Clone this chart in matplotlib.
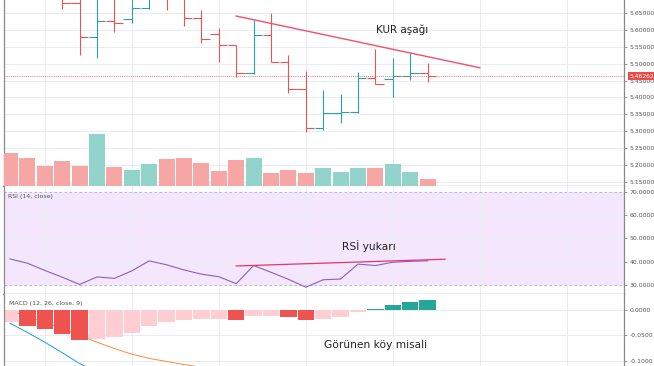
import matplotlib
matplotlib.use("Agg")
import matplotlib.pyplot as plt
from matplotlib.ticker import FixedLocator, FuncFormatter

# ---------------- data ----------------
bars = list(range(25))
opens  = [5.76, 5.74, 5.73, 5.71, 5.679, 5.578, 5.627, 5.631, 5.664, 5.71,
          5.695, 5.634, 5.588, 5.555, 5.472, 5.585, 5.504, 5.424, 5.309, 5.355,
          5.358, 5.457, 5.454, 5.463, 5.473]
highs  = [5.79, 5.77, 5.76, 5.73, 5.71, 5.70, 5.70, 5.70, 5.72, 5.73,
          5.71, 5.659, 5.605, 5.555, 5.629, 5.649, 5.526, 5.478, 5.422, 5.409,
          5.476, 5.543, 5.516, 5.531, 5.501]
lows   = [5.72, 5.71, 5.70, 5.662, 5.526, 5.516, 5.595, 5.619, 5.663, 5.659,
          5.612, 5.562, 5.504, 5.462, 5.469, 5.504, 5.412, 5.299, 5.304, 5.324,
          5.355, 5.439, 5.402, 5.452, 5.447]
closes = [5.73, 5.72, 5.71, 5.679, 5.578, 5.627, 5.619, 5.664, 5.70, 5.695,
          5.634, 5.572, 5.555, 5.472, 5.585, 5.504, 5.424, 5.309, 5.355, 5.358,
          5.457, 5.440, 5.463, 5.473, 5.46262]
volume = [32700, 27700, 20000, 25000, 20300, 52000, 19300, 15700, 22300, 26700,
          28300, 22700, 14700, 25700, 27700, 13300, 16000, 13300, 18300, 14300,
          18300, 18300, 21700, 14300, 6700]
last_price = 5.46262

rsi = [41.2, 39.4, 36.3, 33.4, 30.3, 33.5, 32.9, 36.1, 40.4, 38.7,
       36.5, 34.7, 33.6, 30.6, 38.4, 35.5, 32.5, 29.1, 32.3, 32.6,
       39.0, 38.4, 39.8, 40.2, 40.4]

macd_hist = [-0.0247, -0.031, -0.038, -0.048, -0.0587, -0.0573, -0.052, -0.0446, -0.031, -0.0247,
             -0.020, -0.0177, -0.0175, -0.020, -0.0125, -0.0125, -0.0138, -0.020, -0.019, -0.015,
             -0.0054, 0.0006, 0.0087, 0.015, 0.018]
macd_line = [-0.0265, -0.044, -0.063, -0.083, -0.104, -0.120, -0.133, -0.142, -0.146, -0.149,
             -0.150, -0.151, -0.152, -0.155, -0.153, -0.155, -0.160, -0.166, -0.165, -0.162,
             -0.152, -0.146, -0.138, -0.131, -0.125]
signal_line = [-0.002, -0.013, -0.025, -0.036, -0.049, -0.063, -0.075, -0.086, -0.094, -0.100,
               -0.106, -0.111, -0.116, -0.121, -0.125, -0.129, -0.132, -0.136, -0.140, -0.143,
               -0.145, -0.146, -0.146, -0.145, -0.142]

price_trend_x = [13, 27]
price_trend_y = [5.641, 5.488]
rsi_trend_x = [13, 25]
rsi_trend_y = [38.2, 41.1]

price_ticks = [5.15, 5.20, 5.25, 5.30, 5.35, 5.40, 5.45, 5.50, 5.55, 5.60, 5.65]
rsi_ticks = [30, 40, 50, 60, 70]
macd_ticks = [-0.10, -0.05, 0.0]
vgrid = [2, 7, 12, 17, 22, 27, 32]

# ---------------- style ----------------
UP, DOWN = '#26a69a', '#ef5350'
VOL_UP, VOL_DOWN = '#92d3cc', '#f5a6a5'
GRID = '#e9edf3'
AXC = '#8a8a8a'
LBL = '#555555'
plt.rcParams['font.family'] = ['DejaVu Sans']

fig = plt.figure(figsize=(6.54, 3.66), dpi=100)
L = 3.5 / 654
Wd = (624 - 3.5) / 654
rect_p = [L, 180 / 366, Wd, 186 / 366]
ax_p = fig.add_axes(rect_p)
ax_v = fig.add_axes(rect_p, sharex=ax_p)
ax_r = fig.add_axes([L, 72.5 / 366, Wd, 107.5 / 366], sharex=ax_p)
ax_m = fig.add_axes([L, 0, Wd, 72.5 / 366], sharex=ax_p)

xlim = (-0.374, 35.29)


def style_axis(ax, ticks, fmt, ylim):
    ax.set_xlim(*xlim)
    ax.set_ylim(*ylim)
    ax.xaxis.set_major_locator(FixedLocator(vgrid))
    ax.tick_params(axis='x', length=0, labelbottom=False)
    ax.yaxis.tick_right()
    ax.yaxis.set_major_locator(FixedLocator(ticks))
    ax.yaxis.set_major_formatter(FuncFormatter(lambda v, p: fmt.format(v)))
    ax.tick_params(axis='y', length=2.5, width=0.6, color=AXC, labelsize=4.4,
                   labelcolor=LBL, pad=1.5)
    ax.grid(True, color=GRID, lw=0.7)
    ax.set_axisbelow(True)
    for s in ['left', 'right', 'bottom']:
        ax.spines[s].set_color(AXC)
        ax.spines[s].set_linewidth(0.9)
    ax.spines['top'].set_visible(False)


# ---------------- price pane ----------------
style_axis(ax_p, price_ticks, '{:.5f}', (5.1380, 5.6885))
cols = [UP if c >= o else DOWN for o, c in zip(opens, closes)]
ax_p.vlines(bars, lows, highs, colors=cols, lw=0.8)
ax_p.hlines(opens, [b - 0.48 for b in bars], bars, colors=cols, lw=0.8)
ax_p.hlines(closes, bars, [b + 0.48 for b in bars], colors=cols, lw=0.8)
ax_p.axhline(last_price, color=DOWN, lw=0.7, ls=(0, (1, 1.2)), alpha=0.8)
ax_p.plot(price_trend_x, price_trend_y, color='#f0506a', lw=1.0)
ax_p.text(22.56, 5.601, 'KUR aşağı', fontsize=7.5, color='#222222',
          ha='center', va='center')
ax_p.annotate(f'{last_price:.5f}', xy=(1.0, last_price),
              xycoords=('axes fraction', 'data'), xytext=(13.0, 0),
              textcoords='offset points', ha='center', va='center',
              fontsize=4.3, color='white', annotation_clip=False,
              bbox=dict(boxstyle='square,pad=0.25', fc='#ef4a4a', ec='none'))

# volume overlay
vcols = [VOL_UP if c >= o else VOL_DOWN for o, c in zip(opens, closes)]
ax_v.bar(bars, volume, width=0.92, color=vcols)
ax_v.set_ylim(0, 186000)
ax_v.set_xlim(*xlim)
ax_v.patch.set_alpha(0)
ax_v.axis('off')

# ---------------- RSI pane ----------------
style_axis(ax_r, rsi_ticks, '{:.4f}', (26.4, 72.5))
ax_r.axhspan(30, 70, color='#f3e6fd', zorder=0)
ax_r.axhline(70, color='#b8b0c0', lw=0.6, ls=(0, (3, 3)))
ax_r.axhline(30, color='#b8b0c0', lw=0.6, ls=(0, (3, 3)))
ax_r.plot(bars, rsi, color='#8e5cc4', lw=0.8)
ax_r.plot(rsi_trend_x, rsi_trend_y, color='#e9326e', lw=0.9)
ax_r.text(20.65, 46.85, 'RSİ yukarı', fontsize=7.7, color='#222222',
          ha='center', va='center')
ax_r.text(0.008, 0.90, 'RSI (14, close)', transform=ax_r.transAxes,
          fontsize=4.5, color=LBL, ha='left', va='center')

# ---------------- MACD pane ----------------
style_axis(ax_m, macd_ticks, '{:.4f}', (-0.1087, 0.0308))
ax_m.spines['bottom'].set_visible(False)
hcols = []
for i, h in enumerate(macd_hist):
    prev = macd_hist[i - 1] if i > 0 else h
    if h >= 0:
        hcols.append('#26a69a' if h >= prev else '#b2dfdb')
    else:
        hcols.append('#ef5350' if h < prev else '#ffcdd2')
ax_m.plot(bars, macd_line, color='#2196f3', lw=0.7, zorder=1)
ax_m.plot(bars, signal_line, color='#ff8a3d', lw=0.7, zorder=1)
ax_m.bar(bars, macd_hist, width=0.95, color=hcols, zorder=2)
ax_m.text(21.0, -0.0675, 'Görünen köy misali', fontsize=7.7, color='#222222',
          ha='center', va='center')
ax_m.text(0.009, 0.865, 'MACD (12, 26, close, 9)', transform=ax_m.transAxes,
          fontsize=4.5, color=LBL, ha='left', va='center')

fig.savefig('out.png', dpi=100)
